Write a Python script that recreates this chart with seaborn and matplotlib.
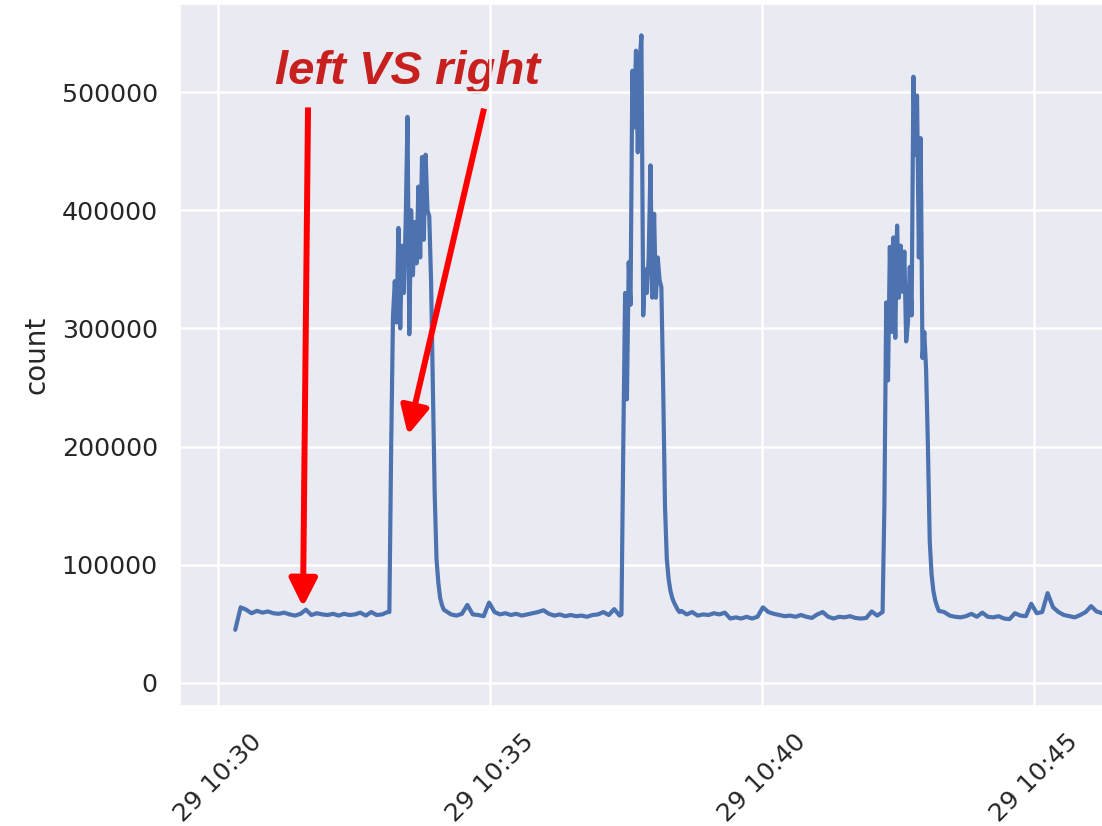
import matplotlib
matplotlib.use("Agg")
import matplotlib.pyplot as plt
import matplotlib.dates as mdates
from matplotlib.patches import FancyArrowPatch
import numpy as np
import pandas as pd
import seaborn as sns

# ---------------- data ----------------
day_start = "2019-05-29 10:30:00"

# baseline before first burst, 6 s cadence from 10:30:19
seg1_counts = [45000, 64000, 62000, 59000, 61000, 59500, 60500, 59000, 58500, 59500,
               58000, 57000, 58500, 62000, 57500, 59000, 58000, 57500, 58500, 57000,
               58500, 57500, 58000, 59500, 57000, 60000, 57500, 58000, 60000]
# first burst, 2 s cadence from 10:33:09
seg2_counts = [60000, 200000, 310000, 340000, 305000, 385000, 300000, 370000, 330000, 390000,
               479000, 295000, 400000, 345000, 390000, 355000, 420000, 360000, 445000, 375000,
               447000, 400000, 395000, 340000, 250000, 160000, 105000, 85000, 72000, 66000,
               62000]
# baseline, 6 s cadence from 10:34:11
seg3_counts = [61000, 58000, 57000, 58500, 66000, 58000, 57500, 56500, 68000, 60000,
               58000, 59000, 57500, 58500, 57000, 58000, 59000, 60000, 61500, 58500,
               57000, 58000, 56500, 57500, 56500, 57000, 56000, 57500, 58000, 60000,
               57500, 62500, 57000]
# second burst, 2 s cadence from 10:37:25
seg4_counts = [58000, 200000, 330000, 240000, 356000, 320000, 518000, 470000, 535000, 449000,
               525000, 548000, 311000, 350000, 330000, 360000, 438000, 326000, 397000, 326000,
               360000, 341000, 335000, 250000, 150000, 105000, 88000, 78000, 72000, 68000,
               65000, 62000, 60000]
# baseline, 6 s cadence from 10:38:31
seg5_counts = [61000, 58000, 60000, 57000, 58000, 57500, 59000, 58000, 59500, 54500,
               55500, 54500, 56000, 54500, 56000, 64000, 60000, 58500, 57500, 56500,
               57000, 56000, 57500, 56000, 55000, 58000, 60000, 56000, 54500, 56000,
               55500, 56500, 55000, 54500, 55000, 60500, 57000]
# third burst, 2 s cadence from 10:42:13
seg6_counts = [60000, 150000, 322000, 256000, 369000, 297000, 377000, 292000, 387000, 326000,
               370000, 331000, 365000, 289000, 305000, 352000, 311000, 513000, 447000, 497000,
               360000, 461000, 275000, 297000, 265000, 200000, 120000, 92000, 78000, 70000,
               65000, 61000]
# baseline, 6 s cadence from 10:43:21
seg7_counts = [60000, 57000, 56000, 55500, 56500, 58500, 56000, 59500, 56000, 55500,
               56500, 54500, 54000, 59000, 57000, 56500, 67000, 59000, 60000, 76000,
               64000, 60000, 57500, 56500, 55500, 57500, 60000, 65000, 60500, 59000,
               58500]

segments = [  # (offset seconds after 10:30:00, cadence, values)
    (19, "6s", seg1_counts),
    (189, "2s", seg2_counts),
    (251, "6s", seg3_counts),
    (445, "2s", seg4_counts),
    (511, "6s", seg5_counts),
    (733, "2s", seg6_counts),
    (801, "6s", seg7_counts),
]

y_ticks = [0, 100000, 200000, 300000, 400000, 500000]
annotation_text = "left VS right"

# ---------------- build frame ----------------
t0 = pd.Timestamp(day_start)
frames = []
for off, freq, vals in segments:
    idx = pd.date_range(t0 + pd.Timedelta(seconds=off), periods=len(vals), freq=freq)
    frames.append(pd.DataFrame({"time": idx, "count": vals}))
df = pd.concat(frames, ignore_index=True)

# ---------------- style ----------------
sns.set_theme(style="darkgrid")
plt.rcParams["font.family"] = ["DejaVu Sans"]

W, H = 1102, 826
fig = plt.figure(figsize=(W / 100, H / 100), dpi=100)
ax_left, ax_top, ax_bottom, ax_right = 180, 4, 706, 1180
ax = fig.add_axes([ax_left / W, 1 - ax_bottom / H,
                   (ax_right - ax_left) / W, (ax_bottom - ax_top) / H])

sns.lineplot(data=df, x="time", y="count", ax=ax, color="#4C72B0", linewidth=3.0)

px_per_sec = 272 / 300.0
xmin = t0 - pd.Timedelta(seconds=(218 - ax_left) / px_per_sec)
xmax = xmin + pd.Timedelta(seconds=(ax_right - ax_left) / px_per_sec)
ax.set_xlim(xmin, xmax)
ax.set_ylim(-19500, 574500)

ax.set_yticks(y_ticks)
ax.yaxis.set_major_formatter(matplotlib.ticker.FuncFormatter(lambda v, p: f"{int(v)}"))
ax.xaxis.set_major_locator(mdates.MinuteLocator(byminute=range(0, 60, 5)))
ax.xaxis.set_major_formatter(mdates.DateFormatter("%d %H:%M"))
for lab in ax.get_xticklabels():
    lab.set_rotation(45)
    lab.set_ha("center")

ax.tick_params(axis="both", labelsize=18.3, colors="#262626", length=0)
ax.tick_params(axis="y", pad=16)
ax.tick_params(axis="x", pad=17)
ax.set_xlabel("")
ax.set_ylabel("count", fontsize=20, color="#262626", labelpad=8)
ax.grid(True, color="white", linewidth=1.8)
ax.set_axisbelow(True)

# ---------------- annotation ----------------
def tpos(sec):
    return mdates.date2num(t0 + pd.Timedelta(seconds=sec))

ax.text(tpos(209.5), 507000, annotation_text, color="#C8201E", fontsize=34,
        fontweight="bold", fontstyle="italic", family=["Liberation Sans", "DejaVu Sans"],
        ha="center", va="baseline", zorder=0.3)

for (sx, sy), (ex, ey) in [((99.3, 487000), (93.7, 64300)),
                           ((293.4, 486000), (209.5, 209800))]:
    arr = FancyArrowPatch((tpos(sx), sy), (tpos(ex), ey),
                          arrowstyle="-|>,head_length=17,head_width=8.5",
                          mutation_scale=1, color="#FF0000", linewidth=4.3,
                          capstyle="butt",
                          shrinkA=0, shrinkB=0, zorder=5)
    ax.add_patch(arr)

fig.savefig("out.png", dpi=100)
